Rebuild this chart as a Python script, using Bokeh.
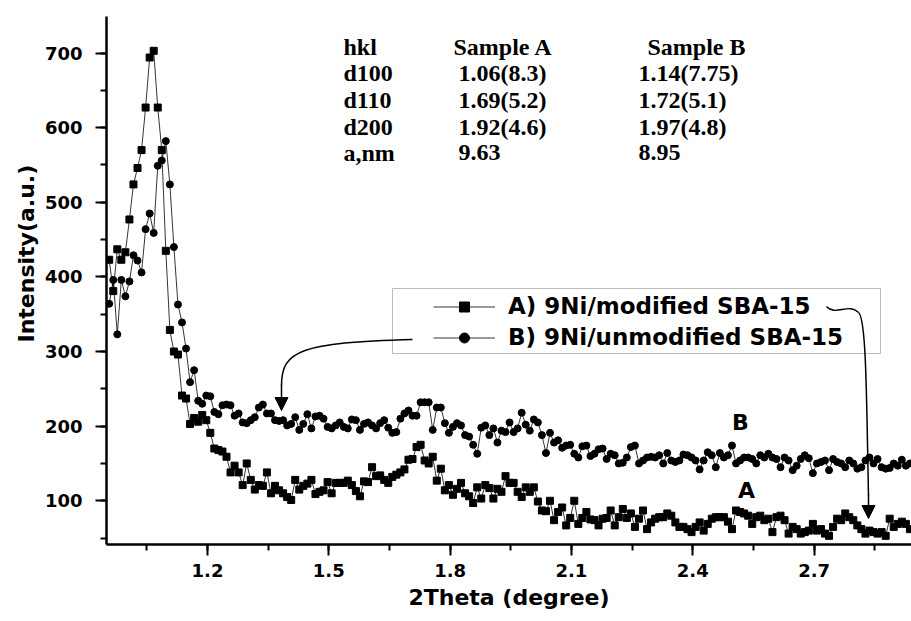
from bokeh.plotting import figure
from bokeh.models import (Range1d, SingleIntervalTicker, Legend, LegendItem, BoxAnnotation,
                          Label, Arrow, NormalHead, ColumnDataSource, PrintfTickFormatter, Title)
from bokeh.core.properties import value
from bokeh.embed import file_html
from bokeh.resources import INLINE

# ---------------- data ----------------
theta_start = 0.957
theta_step = 0.01
n_points = 199
two_theta = [round(theta_start + theta_step * i, 3) for i in range(n_points)]

sample_a = [
    423, 381, 437, 423, 433, 477, 524, 546, 570, 627,
    694, 703, 627, 570, 435, 329, 300, 296, 241, 237,
    203, 211, 206, 215, 208, 191, 170, 168, 166, 159,
    138, 147, 138, 121, 150, 128, 115, 121, 120, 138,
    110, 120, 114, 110, 105, 101, 128, 115, 120, 123,
    128, 109, 112, 114, 125, 110, 124, 124, 124, 127,
    121, 113, 106, 126, 125, 145, 133, 134, 128, 124,
    132, 135, 138, 142, 155, 156, 172, 175, 154, 150,
    159, 127, 143, 114, 121, 108, 116, 124, 110, 106,
    97, 118, 103, 121, 117, 103, 116, 112, 133, 124,
    124, 112, 105, 118, 112, 118, 99, 87, 86, 100,
    74, 85, 91, 67, 77, 100, 69, 77, 85, 75,
    74, 67, 76, 77, 87, 67, 78, 89, 77, 83,
    65, 76, 87, 62, 71, 76, 78, 78, 83, 80,
    71, 65, 65, 62, 58, 65, 71, 60, 69, 76,
    78, 78, 78, 72, 62, 87, 85, 83, 80, 69,
    78, 80, 74, 76, 58, 78, 80, 74, 56, 65,
    62, 56, 58, 60, 69, 60, 62, 56, 53, 65,
    76, 74, 83, 78, 74, 67, 62, 56, 60, 58,
    56, 58, 53, 76, 65, 69, 72, 69, 62,
]

sample_b = [
    364, 396, 323, 396, 374, 394, 429, 422, 406, 464,
    485, 459, 549, 556, 582, 524, 440, 363, 339, 304,
    259, 275, 234, 230, 241, 240, 219, 216, 228, 229,
    228, 214, 217, 205, 204, 208, 212, 225, 229, 217,
    217, 208, 207, 208, 201, 203, 212, 195, 203, 216,
    197, 213, 214, 210, 199, 197, 201, 205, 199, 197,
    209, 208, 195, 203, 205, 201, 197, 204, 208, 198,
    191, 192, 210, 217, 221, 214, 214, 232, 232, 232,
    195, 225, 225, 204, 191, 199, 204, 201, 188, 186,
    175, 163, 198, 201, 188, 197, 178, 194, 192, 205,
    192, 197, 218, 202, 194, 209, 205, 188, 164, 191,
    178, 181, 171, 174, 175, 163, 158, 173, 174, 160,
    163, 169, 170, 156, 163, 161, 150, 151, 158, 172,
    174, 150, 154, 158, 159, 158, 161, 150, 164, 154,
    152, 154, 162, 161, 158, 154, 142, 154, 165, 161,
    145, 164, 158, 161, 174, 150, 154, 158, 158, 156,
    150, 161, 158, 163, 158, 156, 145, 158, 154, 141,
    147, 156, 161, 157, 137, 150, 152, 154, 141, 156,
    152, 150, 145, 154, 150, 143, 145, 154, 158, 150,
    156, 145, 143, 144, 150, 147, 155, 147, 150,
]

series_labels = ["A) 9Ni/modified SBA-15", "B) 9Ni/unmodified SBA-15"]

table_header = ["hkl", "Sample A", "Sample B"]
table_hkl = ["d100", "d110", "d200", "a,nm"]
table_sample_a = ["1.06(8.3)", "1.69(5.2)", "1.92(4.6)", "9.63"]
table_sample_b = ["1.14(7.75)", "1.72(5.1)", "1.97(4.8)", "8.95"]

x_axis_title = "2Theta (degree)"
y_axis_title = "Intensity(a.u.)"
x_ticks_interval = 0.3
y_ticks_interval = 100

# ---------------- figure ----------------
X_MIN, X_MAX = 0.9503, 2.9409
Y_MIN, Y_MAX = 41.4, 749.0
W, H = 911, 621
LEFT, RIGHT, TOP, BOTTOM = 106, 0, 16, 77

p = figure(width=W, height=H, x_range=Range1d(X_MIN, X_MAX), y_range=Range1d(Y_MIN, Y_MAX),
           output_backend="svg", toolbar_location=None, title=None,
           min_border_left=LEFT, min_border_right=RIGHT, min_border_top=TOP, min_border_bottom=BOTTOM)
p.outline_line_color = None
p.xgrid.visible = False
p.ygrid.visible = False
p.background_fill_color = "white"
p.border_fill_color = "white"

frame_w = W - LEFT - RIGHT
frame_h = H - TOP - BOTTOM


def fx(px):
    return X_MIN + (px - LEFT) * (X_MAX - X_MIN) / frame_w


def fy(py):
    return Y_MAX - (py - TOP) * (Y_MAX - Y_MIN) / frame_h


AX_FONT = "DejaVu Sans"
for ax in (p.xaxis[0], p.yaxis[0]):
    ax.axis_line_width = 2.5
    ax.axis_line_color = "black"
    ax.major_tick_line_width = 2
    ax.minor_tick_line_width = 2
    ax.major_tick_in = 0
    ax.minor_tick_in = 0
    ax.major_tick_out = 11
    ax.minor_tick_out = 6
    ax.major_label_text_font = AX_FONT
    ax.major_label_text_font_style = "bold"
    ax.major_label_text_font_size = "18px"
    ax.major_label_text_color = "black"
    ax.axis_label_text_font = AX_FONT
    ax.axis_label_text_font_style = "bold"
    ax.axis_label_text_font_size = "22px"
    ax.axis_label_text_color = "black"

p.xaxis.ticker = SingleIntervalTicker(interval=x_ticks_interval, num_minor_ticks=2)
p.yaxis.ticker = SingleIntervalTicker(interval=y_ticks_interval, num_minor_ticks=2)
p.xaxis.formatter = PrintfTickFormatter(format="%.1f")
p.xaxis.major_label_standoff = 8
p.yaxis.major_label_standoff = 13
p.xaxis.axis_label = x_axis_title
p.xaxis.axis_label_standoff = 5

# y-axis title as a side title, shifted upward like the original
p.add_layout(Title(text=y_axis_title, align="left", offset=202, standoff=6,
                   text_font=AX_FONT, text_font_style="bold", text_font_size="22px",
                   text_color="black"), "left")

# ---------------- series ----------------
src = ColumnDataSource(dict(x=two_theta, a=sample_a, b=sample_b))
la = p.line("x", "a", source=src, line_color="black", line_width=0.8)
sa = p.scatter("x", "a", source=src, marker="square", size=7, fill_color="black", line_color="black")
lb = p.line("x", "b", source=src, line_color="black", line_width=0.8)
sb = p.scatter("x", "b", source=src, marker="circle", size=7, fill_color="black", line_color="black")

# ---------------- legend ----------------
legend = Legend(items=[LegendItem(label=series_labels[0], renderers=[la, sa]),
                       LegendItem(label=series_labels[1], renderers=[lb, sb])],
                location=(322, 189), orientation="vertical",
                glyph_width=62, glyph_height=25, label_height=25, label_standoff=13,
                spacing=5, padding=5, margin=0,
                label_text_font=AX_FONT, label_text_font_style="bold", label_text_font_size="23px",
                label_text_color="black", border_line_alpha=0, background_fill_alpha=0)
p.add_layout(legend)
p.add_layout(BoxAnnotation(left=fx(392), right=fx(880), top=fy(288), bottom=fy(353),
                           fill_alpha=0, fill_color=None, line_color="#222222", line_width=1))

# ---------------- table ----------------
col_x = [343, 458, 638]
head_x = [343, 453, 647]
row_y = [46, 72, 99, 126, 152]
tx, ty, tt = [], [], []
for j, s in enumerate(table_header):
    tx.append(fx(head_x[j])); ty.append(fy(row_y[0])); tt.append(s)
for i in range(len(table_hkl)):
    for j, col in enumerate((table_hkl, table_sample_a, table_sample_b)):
        tx.append(fx(col_x[j])); ty.append(fy(row_y[i + 1])); tt.append(col[i])
p.text(x=tx, y=ty, text=tt, text_font=value("Liberation Serif"), text_font_style="bold",
       text_font_size="24px", text_align="left", text_baseline="middle", text_color="black")

# ---------------- annotations ----------------
for txt, px, py in (("B", 740, 422), ("A", 746, 490)):
    p.add_layout(Label(x=fx(px), y=fy(py), text=txt, text_font=AX_FONT, text_font_style="bold",
                       text_font_size="22px", text_align="center", text_baseline="middle",
                       text_color="black"))

# arrow from legend B to curve B
p.bezier(x0=[fx(412)], y0=[fy(339)], x1=[fx(281)], y1=[fy(385)],
         cx0=[fx(300)], cy0=[fy(342)], cx1=[fx(281)], cy1=[fy(350)],
         line_color="black", line_width=1.5)
p.add_layout(Arrow(end=NormalHead(size=13, fill_color="black", line_color="black"),
                   x_start=fx(281), y_start=fy(384), x_end=fx(281), y_end=fy(410),
                   line_color="black", line_width=1.5))
# arrow from legend A to curve A
p.bezier(x0=[fx(826)], y0=[fy(306)], x1=[fx(858)], y1=[fy(312)],
         cx0=[fx(835)], cy0=[fy(316)], cx1=[fx(848)], cy1=[fy(302)],
         line_color="black", line_width=1.3)
p.bezier(x0=[fx(858)], y0=[fy(312)], x1=[fx(868)], y1=[fy(495)],
         cx0=[fx(866)], cy0=[fy(318)], cx1=[fx(866)], cy1=[fy(400)],
         line_color="black", line_width=1.5)
p.add_layout(Arrow(end=NormalHead(size=13, fill_color="black", line_color="black"),
                   x_start=fx(868), y_start=fy(494), x_end=fx(868), y_end=fy(518),
                   line_color="black", line_width=1.5))

open("out.html", "w").write(file_html(p, INLINE))
